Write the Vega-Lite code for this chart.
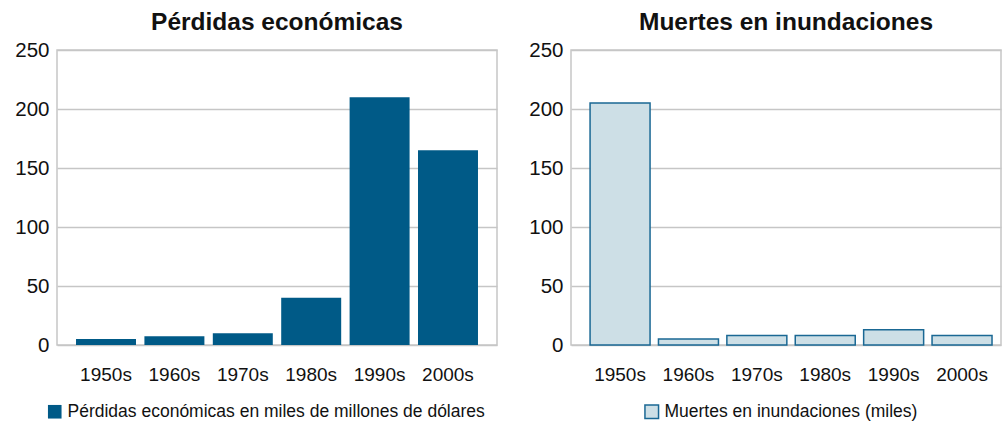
{
  "$schema": "https://vega.github.io/schema/vega-lite/v6.json",
  "background": "white",
  "padding": {"left": 14, "top": 8, "right": 0, "bottom": 0},
  "data": {"values": [
    {"decada": "1950s", "perdidas": 5, "muertes": 205},
    {"decada": "1960s", "perdidas": 7.5, "muertes": 5},
    {"decada": "1970s", "perdidas": 10, "muertes": 8},
    {"decada": "1980s", "perdidas": 40, "muertes": 8},
    {"decada": "1990s", "perdidas": 210, "muertes": 13},
    {"decada": "2000s", "perdidas": 165, "muertes": 8}
  ]},
  "config": {
    "font": "Liberation Sans",
    "view": {"stroke": "#c6c6c6", "strokeWidth": 1.5},
    "axis": {"labelFont": "Liberation Sans", "labelColor": "#111111", "ticks": false, "domain": false, "title": null},
    "title": {"font": "Liberation Sans", "fontSize": 24.5, "fontWeight": "bold", "color": "#111111", "anchor": "middle"},
    "legend": {"labelFont": "Liberation Sans", "labelFontSize": 17.5, "labelColor": "#111111", "symbolType": "square", "symbolSize": 185, "labelOffset": 4, "labelLimit": 0}
  },
  "resolve": {"scale": {"fill": "independent", "y": "independent", "x": "independent"}, "legend": {"fill": "independent"}},
  "bounds": "flush",
  "spacing": 74,
  "hconcat": [
    {
      "width": 440,
      "height": 295,
      "title": {"text": "Pérdidas económicas", "offset": 5},
      "mark": {"type": "bar"},
      "encoding": {
        "x": {"field": "decada", "type": "nominal", "sort": null,
              "scale": {"paddingInner": 0.123, "paddingOuter": 0.278},
              "axis": {"labelAngle": 0, "labelFontSize": 19, "labelPadding": 20, "grid": false}},
        "y": {"field": "perdidas", "type": "quantitative",
              "scale": {"domain": [0, 250]},
              "axis": {"values": [0, 50, 100, 150, 200, 250], "labelFontSize": 20.5, "labelPadding": 8, "gridColor": "#c6c6c6", "gridWidth": 1.5}},
        "fill": {"datum": "Pérdidas económicas en miles de millones de dólares",
                 "scale": {"range": ["#005a87"]},
                 "legend": {"title": null, "orient": "none", "legendX": -11, "legendY": 353}}
      }
    },
    {
      "width": 430,
      "height": 295,
      "title": {"text": "Muertes en inundaciones", "offset": 5},
      "mark": {"type": "bar", "stroke": "#1a6894", "strokeWidth": 1.5},
      "encoding": {
        "x": {"field": "decada", "type": "nominal", "sort": null,
              "scale": {"paddingInner": 0.123, "paddingOuter": 0.205, "align": 0.68},
              "axis": {"labelAngle": 0, "labelFontSize": 19, "labelPadding": 20, "grid": false}},
        "y": {"field": "muertes", "type": "quantitative",
              "scale": {"domain": [0, 250]},
              "axis": {"values": [0, 50, 100, 150, 200, 250], "labelFontSize": 20.5, "labelPadding": 8, "gridColor": "#c6c6c6", "gridWidth": 1.5}},
        "fill": {"datum": "Muertes en inundaciones (miles)",
                 "scale": {"range": ["#cddfe6"]},
                 "legend": {"title": null, "orient": "none", "legendX": 72, "legendY": 353, "symbolStrokeColor": "#1a6894", "symbolStrokeWidth": 1.5}}
      }
    }
  ]
}
